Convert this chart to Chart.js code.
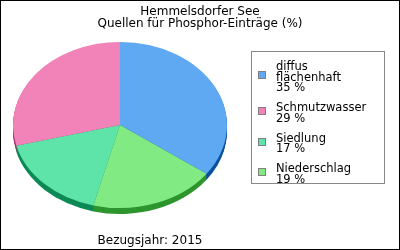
<!DOCTYPE html>
<html>
<head>
<meta charset="utf-8">
<script src="https://cdn.jsdelivr.net/npm/chart.js@4/dist/chart.umd.min.js"></script>
<style>
html,body{margin:0;padding:0;background:#fff;}
#wrap{position:relative;width:400px;height:250px;overflow:hidden;font-family:"DejaVu Sans",Verdana,sans-serif;color:#000;background:#fff;}
#frame{position:absolute;left:0;top:0;width:400px;height:250px;box-sizing:border-box;border:1px solid #000;pointer-events:none;}
canvas{position:absolute;left:0;top:0;}
#title{position:absolute;left:0;width:400px;top:5px;text-align:center;font-size:12px;line-height:12px;white-space:nowrap;}
#footer{position:absolute;left:0;width:300px;top:233px;text-align:center;font-size:12px;line-height:14px;white-space:nowrap;}
#legend{position:absolute;left:251px;top:51px;width:134px;height:133px;box-sizing:border-box;border:1px solid #888;padding-top:9px;}
.item{position:relative;padding-left:24px;font-size:11.5px;line-height:10.5px;white-space:pre;margin-bottom:9.5px;}
.sq{position:absolute;left:6px;top:calc(50% - 5.5px);width:8px;height:8px;box-sizing:border-box;border:1px solid #808080;}
</style>
</head>
<body>
<div id="wrap">
  <canvas id="c" width="400" height="250"></canvas>
  <div id="title"></div>
  <div id="legend"></div>
  <div id="footer"></div>
  <div id="frame"></div>
</div>
<script>
const titleLines = ['Hemmelsdorfer See', 'Quellen für Phosphor-Einträge (%)'];
const footerText = 'Bezugsjahr: 2015';
const categories = ['diffus\nflächenhaft', 'Schmutzwasser', 'Siedlung', 'Niederschlag'];
const shares = [35, 29, 17, 19];
const unit = '%';
const topColors = ['#5fa8f2', '#f283b8', '#5ee3a8', '#82ea82'];
const sideColors = ['#0d50a0', '#a8306e', '#0c8a55', '#2e952e'];

document.getElementById('title').innerHTML = titleLines.map(t => '<div>' + t + '</div>').join('');
document.getElementById('footer').textContent = footerText;
const leg = document.getElementById('legend');
categories.forEach((c, i) => {
  const it = document.createElement('div');
  it.className = 'item';
  it.textContent = c + '\n' + shares[i] + ' ' + unit;
  const sq = document.createElement('span');
  sq.className = 'sq';
  sq.style.background = topColors[i];
  it.appendChild(sq);
  leg.appendChild(it);
});

const K = 83 / 107;   // vertical squash of the tilted pie
const DEPTH = 6;      // visible thickness in px

const tilt = {
  id: 'tilt',
  beforeDatasetsDraw(chart) {
    const ctx = chart.ctx;
    const meta = chart.getDatasetMeta(0);
    const a0 = meta.data[0];
    const cx = a0.x, cy = a0.y;
    ctx.save();
    ctx.translate(cx, cy);
    ctx.scale(-1, K);
    ctx.translate(-cx, -cy);
    for (let d = DEPTH; d >= 1; d--) {
      meta.data.forEach((arc, i) => {
        const p = arc.getProps(['x', 'y', 'startAngle', 'endAngle', 'outerRadius'], true);
        const oy = p.y + d / K;
        ctx.beginPath();
        ctx.moveTo(p.x, oy);
        ctx.arc(p.x, oy, p.outerRadius, p.startAngle, p.endAngle);
        ctx.closePath();
        ctx.fillStyle = sideColors[i];
        ctx.fill();
      });
    }
  },
  afterDatasetsDraw(chart) {
    chart.ctx.restore();
  }
};

new Chart(document.getElementById('c'), {
  type: 'pie',
  data: {
    labels: categories,
    datasets: [{
      data: shares,
      backgroundColor: topColors,
      borderWidth: 0,
      hoverOffset: 0,
      offset: 0
    }]
  },
  options: {
    responsive: false,
    animation: false,
    events: [],
    rotation: 234,
    radius: 107,
    layout: { padding: { left: 13, right: 173, top: 18, bottom: 18 } },
    plugins: {
      legend: { display: false },
      title: { display: false },
      tooltip: { enabled: false }
    }
  },
  plugins: [tilt]
});
</script>
</body>
</html>
